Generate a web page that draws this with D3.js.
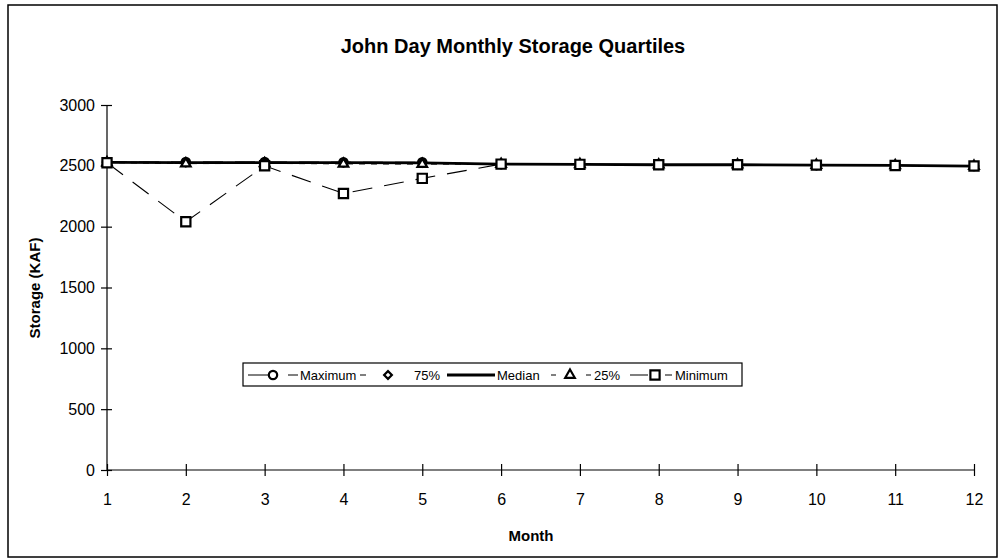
<!DOCTYPE html>
<html><head><meta charset="utf-8">
<script src="https://cdn.jsdelivr.net/npm/d3@7"></script>
<style>
body{margin:0;background:#fff;}
svg{font-family:"Liberation Sans",Arial,sans-serif;}
</style></head>
<body><svg id="c" width="1006" height="559"></svg>
<script>
const months = [1,2,3,4,5,6,7,8,9,10,11,12];
const maximum = [2532,2532,2532,2530,2529,2514,2512,2509,2509,2506,2503,2498];
const q75     = [2530,2528,2528,2526,2525,2514,2512,2509,2509,2506,2503,2498];
const median  = [2528,2527,2527,2526,2525,2514,2512,2509,2509,2506,2503,2498];
const q25     = [2527,2518,2520,2516,2514,2514,2512,2509,2509,2506,2503,2498];
const minimum = [2525,2040,2500,2273,2397,2514,2512,2509,2509,2506,2503,2498];
const yTicks = [0,500,1000,1500,2000,2500,3000];
const seriesNames = ["Maximum","75%","Median","25%","Minimum"];

const svg = d3.select("#c");
const x = d3.scaleLinear().domain([1,12]).range([107,974]);
const y = d3.scaleLinear().domain([0,3000]).range([470,105]);

// outer frame
svg.append("rect").attr("x",8).attr("y",5).attr("width",989).attr("height",552)
  .attr("fill","none").attr("stroke","#000").attr("stroke-width",1.5);

svg.append("text").attr("x",513).attr("y",53).attr("text-anchor","middle")
  .attr("font-size",20).attr("font-weight","bold").text("John Day Monthly Storage Quartiles");

// axes
const yAx = svg.append("g").attr("transform","translate(107,0)")
  .call(d3.axisLeft(y).tickValues(yTicks).tickSize(6).tickPadding(6).tickFormat(d3.format("d")));
yAx.selectAll(".tick line").attr("x2",5).attr("x1",-6);
const xAx = svg.append("g").attr("transform","translate(0,470)")
  .call(d3.axisBottom(x).tickValues(months).tickSize(6).tickPadding(18).tickFormat(d3.format("d")));
xAx.selectAll(".tick line").attr("y1",-6).attr("y2",6);
[yAx,xAx].forEach(a=>{
  a.select(".domain").attr("stroke","#000").attr("stroke-width",1.2);
  a.selectAll(".tick line").attr("stroke","#000").attr("stroke-width",1.2);
  a.selectAll("text").attr("font-size",16).attr("fill","#000").attr("font-family","'Liberation Sans',Arial,sans-serif");
});
yAx.select(".domain").attr("d","M0,105V470");
xAx.select(".domain").attr("d","M107,0H974");

svg.append("text").attr("x",531).attr("y",541).attr("text-anchor","middle")
  .attr("font-size",15).attr("font-weight","bold").text("Month");
svg.append("text").attr("transform","translate(40,288) rotate(-90)").attr("text-anchor","middle")
  .attr("font-size",15).attr("font-weight","bold").text("Storage (KAF)");

const styles = [
  {vals:maximum, dash:"20,12", w:1, marker:"circle"},
  {vals:q75, dash:"6,6", w:1, marker:"diamond"},
  {vals:median, dash:null, w:2.8, marker:null},
  {vals:q25, dash:"6,6", w:1, marker:"triangle"},
  {vals:minimum, dash:"20,12", w:1.1, marker:"square"}
];
const symType = {circle:d3.symbolCircle, diamond:d3.symbolSquare, triangle:d3.symbolTriangle, square:d3.symbolSquare};
const symSize = {circle:55, diamond:30, triangle:40, square:85};
const symRot = {circle:0, diamond:45, triangle:0, square:0};

const line = d3.line().x((d,i)=>x(months[i])).y(d=>y(d));
styles.forEach(s=>{
  svg.append("path").attr("d",line(s.vals)).attr("fill","none").attr("stroke","#000")
    .attr("stroke-width",s.w).attr("stroke-dasharray",s.dash);
});
styles.forEach(s=>{
  if(!s.marker) return;
  svg.selectAll(null).data(s.vals).enter().append("path")
    .attr("d",d3.symbol().type(symType[s.marker]).size(symSize[s.marker]))
    .attr("transform",(d,i)=>`translate(${x(months[i])},${y(d)}) rotate(${symRot[s.marker]})`)
    .attr("fill","#fff").attr("stroke","#000").attr("stroke-width",2.2);
});

// legend
const lg = svg.append("g");
lg.append("rect").attr("x",243).attr("y",363).attr("width",499).attr("height",23)
  .attr("fill","#fff").attr("stroke","#000").attr("stroke-width",1.2);
const legSample = [
  {x0:248,x1:298,mx:273,dash:"20,20",text:300},
  {x0:360,x1:410,mx:388,dash:"6,19",text:414},
  {x0:447,x1:495,mx:471,dash:null,text:497},
  {x0:551,x1:591,mx:570,dash:"5,30",text:594},
  {x0:630,x1:672,mx:655,dash:"18,17",text:675}
];
legSample.forEach((L,i)=>{
  const s = styles[i], cy = 375;
  lg.append("line").attr("x1",L.x0).attr("x2",L.x1).attr("y1",cy).attr("y2",cy)
    .attr("stroke","#000").attr("stroke-width",s.w).attr("stroke-dasharray",L.dash);
  if(s.marker){
    lg.append("path").attr("d",d3.symbol().type(symType[s.marker]).size(symSize[s.marker]))
      .attr("transform",`translate(${L.mx},${cy}) rotate(${symRot[s.marker]})`)
      .attr("fill","#fff").attr("stroke","#000").attr("stroke-width",2.2);
  }
  lg.append("text").attr("x",L.text).attr("y",cy+5).attr("font-size",13).text(seriesNames[i]);
});
</script></body></html>
